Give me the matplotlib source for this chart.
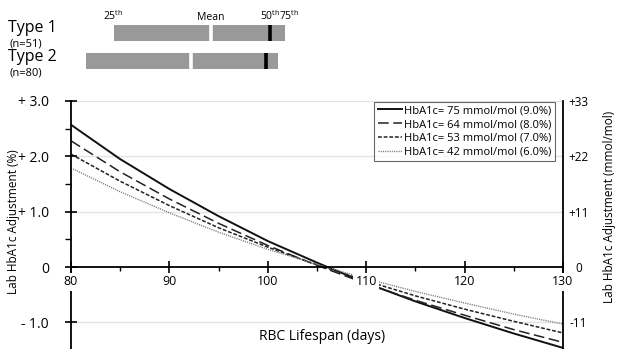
import matplotlib
matplotlib.use("Agg")
import matplotlib.pyplot as plt  # noqa: E402

plt.rcParams["font.family"] = ["Open Sans", "DejaVu Sans"]
plt.rcParams["mathtext.fontset"] = "custom"
plt.rcParams["mathtext.rm"] = "Open Sans"

# ---- data ------------------------------------------------------------------
DAYS = [80, 85, 90, 95, 100, 105, 110, 115, 120, 125, 130]
ADJ_75 = [2.57, 1.95, 1.41, 0.92, 0.47, 0.08, -0.29, -0.62, -0.92, -1.20, -1.46]
ADJ_64 = [2.28, 1.72, 1.23, 0.79, 0.39, 0.03, -0.30, -0.60, -0.87, -1.13, -1.36]
ADJ_53 = [2.04, 1.55, 1.11, 0.71, 0.36, 0.04, -0.25, -0.52, -0.76, -0.98, -1.19]
ADJ_42 = [1.79, 1.36, 0.98, 0.63, 0.32, 0.05, -0.21, -0.44, -0.65, -0.85, -1.03]
SERIES_LABELS = ["HbA1c= 75 mmol/mol (9.0%)", "HbA1c= 64 mmol/mol (8.0%)",
                 "HbA1c= 53 mmol/mol (7.0%)", "HbA1c= 42 mmol/mol (6.0%)"]

# RBC lifespan summary per diabetes type (days): 25th, mean, 50th, 75th
GROUPS = ["Type 1", "Type 2"]
GROUP_N = ["(n=51)", "(n=80)"]
Q25 = [84.4, 81.5]
MEAN = [94.2, 92.2]
MEDIAN = [100.2, 99.8]
Q75 = [101.7, 101.0]

YTICKS = [-1, 0, 1, 2, 3]
YTICK_LABELS = ["- 1.0", "0", "+ 1.0", "+ 2.0", "+ 3.0"]
RTICKS = [-11, 0, 11, 22, 33]
RTICK_LABELS = ["-11", "0", "+11", "+22", "+33"]
XTICKS = [80, 90, 100, 110, 120, 130]

W, H = 617, 349
fig = plt.figure(figsize=(W / 100, H / 100), dpi=100)
L, R = 71 / W, 563 / W

# ---- main chart -------------------------------------------------------------
ax = fig.add_axes([L, 0, R - L, 1 - 101 / H])
ymin = -1.48
ax.set_xlim(80, 130)
ax.set_ylim(ymin, 3.0)
for y in [-1, 1, 2, 3]:
    ax.axhline(y, color="#e3e3e3", lw=1, zorder=0)

styles = [dict(ls="-", color="#111111", lw=1.4),
          dict(ls=(0, (7, 3)), color="#222222", lw=1.1),
          dict(ls=(0, (2.5, 1.2)), color="#222222", lw=1.1),
          dict(ls=(0, (0.8, 0.8)), color="#777777", lw=1.0)]
for vals, lab, st in zip([ADJ_75, ADJ_64, ADJ_53, ADJ_42], SERIES_LABELS, styles):
    ax.plot(DAYS, vals, label=lab, zorder=2, **st)

ax.spines["top"].set_visible(False)
ax.spines["bottom"].set_position(("data", 0))
for s in ["left", "right", "bottom"]:
    ax.spines[s].set_linewidth(1.3)
ax.set_axisbelow(False)

ax.set_xticks(XTICKS)
ax.set_xticks([85, 95, 105, 115, 125], minor=True)
ax.tick_params(axis="x", which="major", direction="inout", length=8, width=1.2,
               labelsize=9, pad=2)
ax.tick_params(axis="x", which="minor", direction="out", length=3, width=1)
for lbl in ax.get_xticklabels():
    lbl.set_bbox(dict(facecolor="white", edgecolor="none", pad=1.5))

ax.set_yticks(YTICKS, YTICK_LABELS)
ax.set_yticks([0.5, 1.5, 2.5], minor=True)
ax.tick_params(axis="y", which="major", direction="inout", length=8, width=1.2,
               labelsize=10, pad=12)
ax.tick_params(axis="y", which="minor", direction="out", length=4, width=1)

ax.text(105.5, -1.25, "RBC Lifespan (days)", ha="center", va="center", fontsize=10)
fig.text(14 / W, 1 - 222 / H, "Lab HbA1c Adjustment (%)", rotation=90,
         ha="center", va="center", fontsize=8.5)

leg = ax.legend(loc="upper right", bbox_to_anchor=(555 / W, 1 - 102 / H),
                bbox_transform=fig.transFigure, fontsize=8, frameon=True,
                fancybox=False, edgecolor="#444444", handlelength=2.2,
                labelspacing=0.25, borderpad=0.3, handletextpad=0.2,
                borderaxespad=0)
leg.get_frame().set_linewidth(0.8)

# right-hand mmol/mol scale
ax2 = ax.twinx()
ax2.set_ylim(ymin * 11, 33)
for s in ax2.spines.values():
    s.set_visible(False)
ax2.set_yticks(RTICKS, RTICK_LABELS)
ax2.tick_params(axis="y", length=0, pad=11, labelsize=8.5)
for lbl in ax2.get_yticklabels():
    lbl.set_horizontalalignment("center")
fig.text(610 / W, 1 - 207 / H, "Lab HbA1c Adjustment (mmol/mol)", rotation=90,
         ha="center", va="center", fontsize=8.5)

# ---- RBC lifespan bars on top ---------------------------------------------
top = fig.add_axes([L, 1 - 90 / H, R - L, 90 / H])
top.set_xlim(80, 130)
top.set_ylim(90, 0)
top.axis("off")
ys = [33, 60.5]
for i, y in enumerate(ys):
    top.barh(y, Q75[i] - Q25[i], left=Q25[i], height=16, color="#999999")
    top.vlines(MEAN[i], y - 8, y + 8, color="white", lw=2.6)
    top.vlines(MEDIAN[i], y - 8, y + 8, color="black", lw=2.6)
top.text(Q25[0] - 0.1, 20, r"25$^{\mathrm{th}}$", ha="center", va="baseline", fontsize=7.5)
top.text(MEAN[0], 20, "Mean", ha="center", va="baseline", fontsize=7.5)
top.text(MEDIAN[0] + 0.05, 20, r"50$^{\mathrm{th}}$", ha="center", va="baseline", fontsize=7.5)
top.text(Q75[0] + 0.45, 20, r"75$^{\mathrm{th}}$", ha="center", va="baseline", fontsize=7.5)

for i, y in enumerate([28, 57]):
    fig.text(8 / W, 1 - y / H, GROUPS[i], ha="left", va="center", fontsize=11.5)
    fig.text(9 / W, 1 - (y + 16) / H, GROUP_N[i], ha="left", va="center", fontsize=8)

fig.savefig("out.png", dpi=100)
